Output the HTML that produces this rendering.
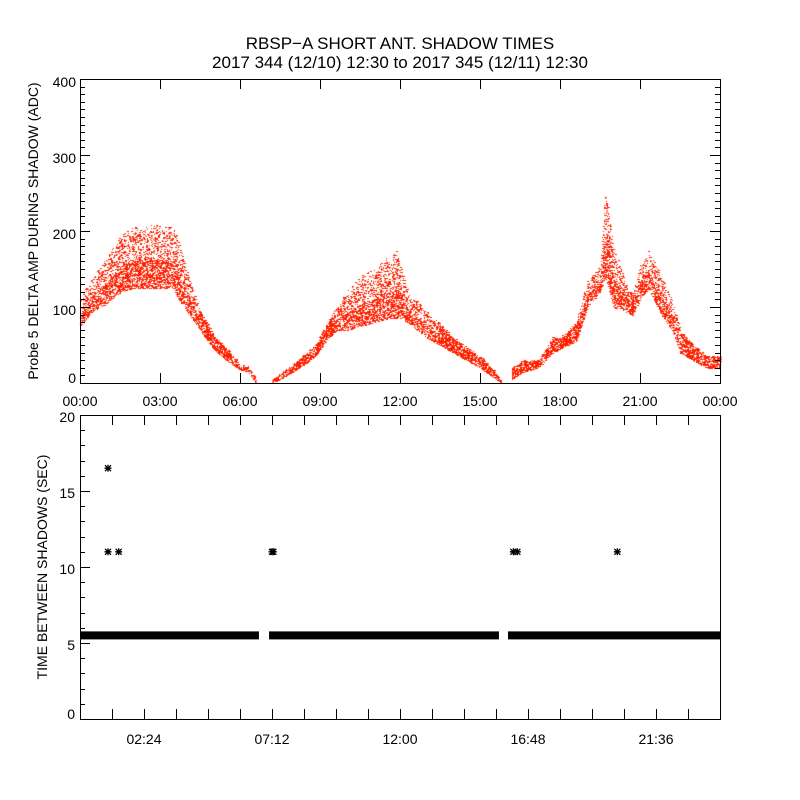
<!DOCTYPE html>
<html><head><meta charset="utf-8"><style>
html,body{margin:0;padding:0;background:#fff;}
#wrap{position:relative;width:800px;height:800px;overflow:hidden;}
canvas{position:absolute;left:0;top:0;}
svg{position:absolute;left:0;top:0;}
text{font-family:"Liberation Sans",sans-serif;fill:#000;}
</style></head><body>
<div id="wrap">
<canvas id="cv" width="800" height="800"></canvas>
<svg id="sv" width="800" height="800">
<text x="400" y="49" font-size="17" text-anchor="middle">RBSP−A SHORT ANT. SHADOW TIMES</text>
<text x="400" y="68" font-size="17" text-anchor="middle">2017 344 (12/10) 12:30 to 2017 345 (12/11) 12:30</text>
<text transform="translate(38,231) rotate(-90)" font-size="14" text-anchor="middle">Probe 5 DELTA AMP DURING SHADOW (ADC)</text>
<text transform="translate(47,567) rotate(-90)" font-size="14" text-anchor="middle">TIME BETWEEN SHADOWS (SEC)</text>
</svg>
</div>
<script>
// Top panel envelope data (hour, low, high)
const envHours = [0,0.5,1.0,1.5,2.0,2.5,3.0,3.5,3.7,4.0,4.5,5.0,5.5,6.0,6.3,6.6, null, 7.2,8.0,8.8,9.2,9.6,10.0,10.5,11.0,11.5,11.9,12.3,13.0,14.0,15.0,15.5,15.8, null, 16.2,16.6,17.2,17.7,18.0,18.6,19.0,19.5,19.7,20.0,20.4,20.7,21.0,21.3,21.8,22.2,22.5,23.0,23.5,24.0];
const envLow  = [75,95,105,120,125,125,125,125,110,95,70,45,30,18,15,0, null, 0,15,35,55,70,70,75,80,85,85,80,60,40,20,8,0, null, 5,15,20,40,45,55,100,120,140,100,95,90,110,125,90,70,40,30,20,20];
const envHigh = [115,140,165,195,205,208,207,205,190,150,95,65,45,25,22,5, null, 5,25,50,75,100,120,140,150,165,175,120,95,60,35,18,3, null, 20,30,30,60,60,80,135,155,260,180,140,115,155,175,140,110,70,50,35,35];
// Bottom panel data
const bandStarts = [0.0, 7.09, 16.05];
const bandEnds   = [6.71, 15.71, 24.0];
const bandValue  = 5.5;
const starHours  = [1.05, 1.05, 1.45, 7.2, 7.25, 16.25, 16.4, 20.15];
const starValues = [16.5, 11, 11, 11, 11, 11, 11, 11];
const topYTicks = [0,100,200,300,400];
const topXLabels = ["00:00","03:00","06:00","09:00","12:00","15:00","18:00","21:00","00:00"];
const botYTicks = [0,5,10,15,20];
const botXLabelHours = [2.4,7.2,12.0,16.8,21.6];
const botXLabels = ["02:24","07:12","12:00","16:48","21:36"];

const L=80,R=720,T1=79,B1=383,T2=415,B2=719;
const xS=h=>L+(h/24)*(R-L);
const y1=v=>B1-(v/400)*(B1-T1);
const y2=v=>B2-(v/20)*(B2-T2);
const NS="http://www.w3.org/2000/svg";
const sv=document.getElementById('sv');
function mk(tag,attrs){const e=document.createElementNS(NS,tag);for(const k in attrs)e.setAttribute(k,attrs[k]);sv.appendChild(e);return e;}
function hsh(a,b){let h=(a*374761393+b*668265263)|0;h=(h^(h>>>13))*1274126177|0;h=h^(h>>>16);return (h>>>0)/4294967296;}

const cv=document.getElementById('cv').getContext('2d');
cv.fillStyle='#ff2200';
let segs=[],cur=[];
for(let i=0;i<envHours.length;i++){if(envHours[i]===null){segs.push(cur);cur=[];}else cur.push(i);}
segs.push(cur);
segs.forEach(seg=>{
  const h0=envHours[seg[0]],h1=envHours[seg[seg.length-1]];
  for(let px=Math.ceil(xS(h0));px<=Math.floor(xS(h1));px++){
    const h=(px-L)/(R-L)*24;
    let k=0;while(k<seg.length-2&&envHours[seg[k+1]]<h)k++;
    const a=seg[k],b=seg[k+1];
    const t=Math.max(0,Math.min(1,(h-envHours[a])/(envHours[b]-envHours[a])));
    const lo=envLow[a]+(envLow[b]-envLow[a])*t, hi=envHigh[a]+(envHigh[b]-envHigh[a])*t;
    const yt=Math.round(y1(hi)),yb=Math.round(y1(lo));
    const span=yb-yt;
    for(let py=yt;py<=yb;py++){
      const frac=span>0?(py-yt)/span:0.5;
      let p=span<22?0.7:(frac>0.55?0.55:0.3);
      if(frac<0.08)p*=0.5;
      if(hsh(px,py)<p)cv.fillRect(px,py,hsh(py,px)<0.4?2:1,1);
    }
  }
});

let f1=mk('rect',{x:L+0.5,y:T1+0.5,width:R-L,height:B1-T1,fill:'none',stroke:'#000','stroke-width':1});


let f2=mk('rect',{x:L+0.5,y:T2+0.5,width:R-L,height:B2-T2,fill:'none',stroke:'#000','stroke-width':1});



for(let v=0;v<=400;v+=10){
  const len=v%100===0?10:5, y=Math.round(y1(v))+0.5;
  mk('line',{x1:L,x2:L+len,y1:y,y2:y,stroke:'#000'});
  mk('line',{x1:R,x2:R-len,y1:y,y2:y,stroke:'#000'});
}
topYTicks.forEach(v=>{const t=mk('text',{x:L-4,y:Math.min(y1(v)+8,B1),'font-size':14,'text-anchor':'end'});t.textContent=v;

});
topXLabels.forEach((s,i)=>{const x=Math.round(xS(i*3))+0.5;
  mk('line',{x1:x,x2:x,y1:B1,y2:B1-10,stroke:'#000'});mk('line',{x1:x,x2:x,y1:T1,y2:T1+10,stroke:'#000'});
  const t=mk('text',{x:xS(i*3),y:B1+23,'font-size':14,'text-anchor':'middle'});t.textContent=s;
  
  });

for(let v=0;v<=20;v++){
  const len=v%5===0?10:5,y=Math.round(y2(v))+0.5;
  mk('line',{x1:L,x2:L+len,y1:y,y2:y,stroke:'#000'});
}
botYTicks.forEach(v=>{const t=mk('text',{x:L-5,y:Math.min(y2(v)+7,B2),'font-size':14,'text-anchor':'end'});t.textContent=v;

});
for(let i=1;i<20;i++){const x=Math.round(xS(i*1.2))+0.5;
  mk('line',{x1:x,x2:x,y1:B2,y2:B2-10,stroke:'#000'});mk('line',{x1:x,x2:x,y1:T2,y2:T2+10,stroke:'#000'});}
botXLabels.forEach((s,i)=>{const t=mk('text',{x:xS(botXLabelHours[i]),y:B2+25,'font-size':14,'text-anchor':'middle'});t.textContent=s;

});

bandStarts.forEach((s,i)=>{const r=mk('rect',{x:xS(s),y:y2(bandValue)-4,width:xS(bandEnds[i])-xS(s),height:8,fill:'#000'});

});
starHours.forEach((h,i)=>{const cx=xS(h),cy=y2(starValues[i]);
  const g=mk('path',{d:`M${cx-3.5} ${cy}H${cx+3.5}M${cx} ${cy-3.5}V${cy+3.5}M${cx-3} ${cy-3}L${cx+3} ${cy+3}M${cx-3} ${cy+3}L${cx+3} ${cy-3}`,stroke:'#000','stroke-width':1.3,fill:'none'});
  
  });
</script>
</body></html>
